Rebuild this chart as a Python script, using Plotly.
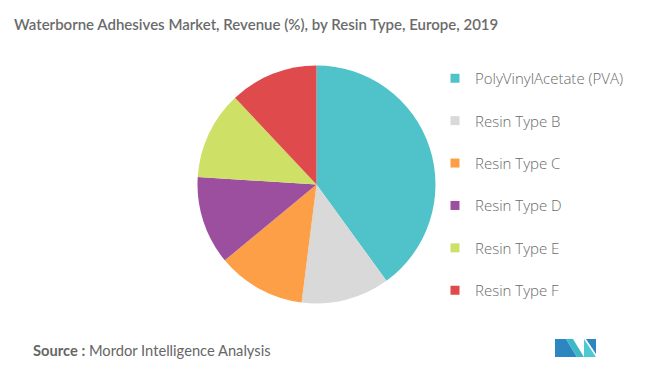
import plotly.graph_objects as go

categories = ["PolyVinylAcetate (PVA)", "Resin Type B", "Resin Type C",
              "Resin Type D", "Resin Type E", "Resin Type F"]
shares = [40, 12, 12, 12, 12, 12]
colors = ["#4FC3C9", "#D9D9D9", "#FD9F47", "#9B4F9E", "#CEE066", "#DF4A4C"]

W, H = 646, 370
fig = go.Figure()
fig.add_trace(go.Pie(
    labels=categories, values=shares, sort=False, direction="clockwise",
    rotation=0, marker=dict(colors=colors, line=dict(width=0)),
    textinfo="none", hoverinfo="label+percent", showlegend=False,
    domain=dict(x=[(316.5 - 119.5) / W, (316.5 + 119.5) / W],
                y=[1 - 303.5 / H, 1 - 65.5 / H]),
))
for i, (c, col) in enumerate(zip(categories, colors)):
    fig.add_trace(go.Scatter(
        x=[None], y=[None], mode="markers", name=c, legendgroup=f"g{i}",
        marker=dict(symbol="square", size=9, color=col),
        showlegend=True, hoverinfo="skip"))

fig.update_layout(
    width=W, height=H, margin=dict(l=0, r=0, t=0, b=0),
    paper_bgcolor="white", plot_bgcolor="white",
    xaxis=dict(visible=False), yaxis=dict(visible=False),
    font=dict(family="Lato", color="#666666"),
    legend=dict(x=435 / W, y=1 - 62 / H, xanchor="left", yanchor="top",
                font=dict(size=15, color="#6A6A6A", family="Open Sans", weight=300),
                tracegroupgap=19.9, itemwidth=30, bgcolor="rgba(0,0,0,0)"),
    showlegend=True,
)
fig.add_annotation(text="Waterborne Adhesives Market, Revenue (%), by Resin Type, Europe, 2019",
                   x=12 / W, y=1 - 24 / H, xref="paper", yref="paper",
                   xanchor="left", yanchor="middle", showarrow=False,
                   font=dict(size=15, color="#6B6B6B", family="Lato", weight=600))
fig.add_annotation(text="<b>Source :</b> Mordor Intelligence Analysis",
                   x=31 / W, y=1 - 350 / H, xref="paper", yref="paper",
                   xanchor="left", yanchor="middle", showarrow=False,
                   font=dict(size=14.7, color="#666666", family="Lato"))
# logo
fig.add_shape(type="path", xref="paper", yref="paper",
              path=f"M {555/W} {1-357/H} L {555/W} {1-339/H} L {566/W} {1-339/H} L {577/W} {1-357/H} Z",
              fillcolor="#2E86C1", line=dict(width=0))
fig.add_shape(type="path", xref="paper", yref="paper",
              path=f"M {566/W} {1-339/H} L {573/W} {1-339/H} L {584/W} {1-357/H} L {577/W} {1-357/H} Z",
              fillcolor="#3DB8C8", line=dict(width=0))
fig.add_shape(type="path", xref="paper", yref="paper",
              path=f"M {584/W} {1-357/H} L {584/W} {1-339/H} L {596/W} {1-357/H} Z",
              fillcolor="#4FC9D1", line=dict(width=0))
fig.add_shape(type="path", xref="paper", yref="paper",
              path=f"M {586/W} {1-339/H} L {596/W} {1-339/H} L {596/W} {1-354/H} Z",
              fillcolor="#2E86C1", line=dict(width=0))
fig.write_html("out.html", config={"displayModeBar": False},
               post_script="document.body.style.margin='0px';")
